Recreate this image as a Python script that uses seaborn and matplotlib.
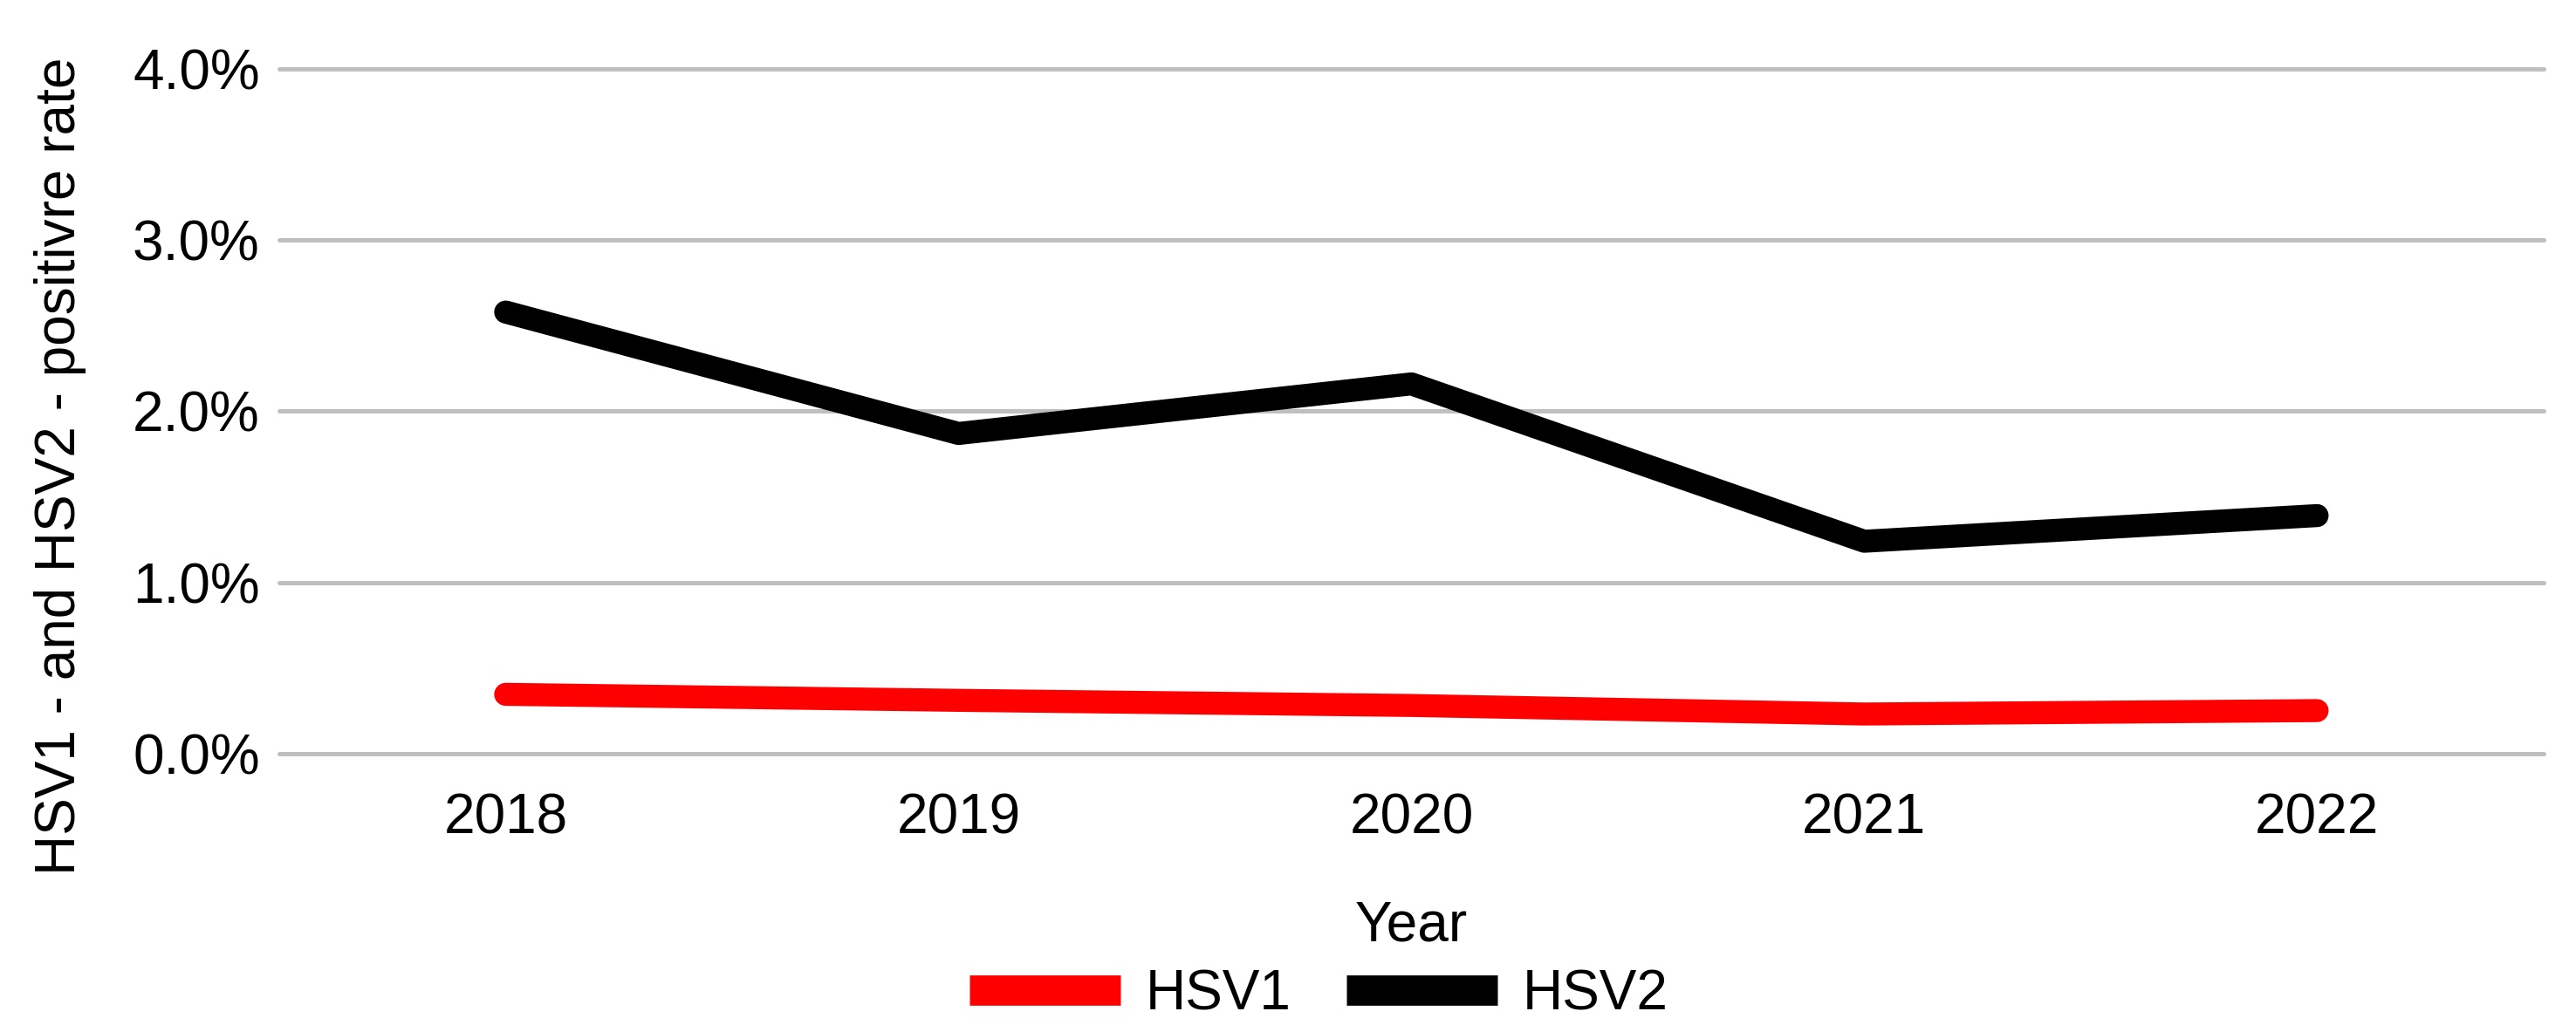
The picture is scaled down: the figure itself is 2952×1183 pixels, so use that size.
import numpy as np
import pandas as pd
import matplotlib
matplotlib.use('Agg')
import matplotlib.pyplot as plt
from matplotlib.lines import Line2D
import seaborn as sns

# data (percent)
years = ['2018', '2019', '2020', '2021', '2022']
hsv1 = [0.345, 0.31, 0.28, 0.23, 0.25]
hsv2 = [2.58, 1.87, 2.16, 1.24, 1.39]
yticks = [0.0, 1.0, 2.0, 3.0, 4.0]

df = pd.DataFrame({
    'Year': years * 2,
    'rate': hsv1 + hsv2,
    'Virus': ['HSV1'] * len(years) + ['HSV2'] * len(years),
})

sns.set_style('white')
plt.rcParams['font.family'] = ['Liberation Sans', 'DejaVu Sans']
for k in ['text.color', 'axes.labelcolor', 'xtick.color', 'ytick.color']:
    plt.rcParams[k] = 'black'

fig = plt.figure(figsize=(29.52, 11.83), dpi=100)
ax = fig.add_axes([0.1084, 0.27, 0.879, 0.663])

pal = {'HSV1': '#ff0000', 'HSV2': '#000000'}
sns.lineplot(data=df, x='Year', y='rate', hue='Virus', palette=pal,
             linewidth=19, ax=ax, legend=False, sort=False)
for ln in ax.get_lines():
    ln.set_solid_capstyle('round')
    ln.set_solid_joinstyle('round')

ax.set_xlim(-0.5, 4.5)
ax.set_ylim(0, 4.0)
ax.set_yticks(yticks)
ax.set_yticklabels(['%.1f%%' % v for v in yticks])
for v in yticks:
    ax.axhline(v, color='#bfbfbf', lw=3.6, zorder=0, clip_on=False)
for s in ax.spines.values():
    s.set_visible(False)
ax.tick_params(axis='both', length=0, labelsize=46, pad=16)
ax.tick_params(axis='x', pad=32)

ax.set_xlabel('Year', fontsize=46, labelpad=46)
ax.set_ylabel('HSV1 - and HSV2 - positivre rate', fontsize=46)
ax.yaxis.set_label_coords(-0.085, 0.42)

handles = [Line2D([0], [0], color=pal[k], lw=25, solid_capstyle='butt') for k in ['HSV1', 'HSV2']]
fig.legend(handles, ['HSV1', 'HSV2'], loc='center', bbox_to_anchor=(0.512, 0.036),
           ncol=2, frameon=False, fontsize=46, handlelength=2.7,
           columnspacing=1.0, handletextpad=0.45)

fig.savefig('out.png', dpi=100)
